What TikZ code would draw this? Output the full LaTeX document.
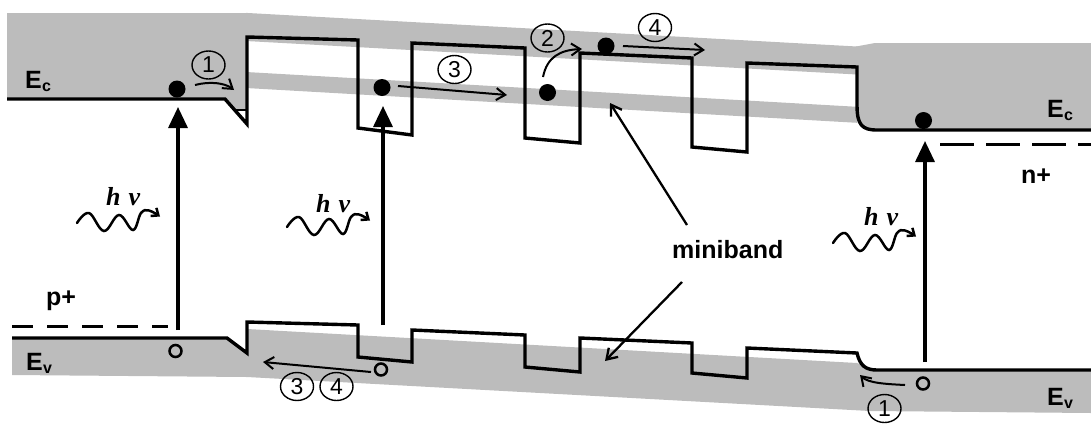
\documentclass[tikz,border=0pt]{standalone}
\usepackage{fontspec}
\setmainfont{Liberation Sans}
\newfontfamily\hnfont{Liberation Serif}
\usetikzlibrary{arrows.meta,shapes.geometric}
\definecolor{bandgray}{RGB}{188,188,188}
\newcommand\subl[1]{\kern0.3pt\raisebox{-3.5pt}{\fontsize{16}{16}\selectfont #1}}
\begin{document}
\begin{tikzpicture}[x=1pt,y=-1pt,
  band/.style={fill=bandgray,draw=none},
  edgeline/.style={line width=3.4pt,line join=miter},
  plevel/.style={line width=3pt,dash pattern=on 21pt off 14pt},
  nlevel/.style={line width=3pt,dash pattern=on 34pt off 12pt},
  photonarrow/.style={line width=3.3pt,-{Triangle[length=21pt,width=19pt]}},
  elec/.style={circle,fill=black,inner sep=0pt,minimum size=17pt},
  hole/.style={circle,draw=black,line width=2.5pt,inner sep=0pt,minimum size=12pt},
  num/.style={ellipse,draw=black,line width=1.4pt,inner sep=0pt,minimum width=33pt,minimum height=28pt,font=\fontsize{23}{23}\selectfont},
  move/.style={line width=2pt,-{Straight Barb[length=9pt,width=12pt,line width=2pt]}},
  pointer/.style={line width=2.3pt,-{Straight Barb[length=10pt,width=13pt]}},
  wave/.style={line width=2.5pt,line cap=round,-{Straight Barb[length=6pt,width=10pt]}},
  lbl/.style={font=\fontsize{25}{25}\selectfont\bfseries,inner sep=0pt},
  hnu/.style={font=\hnfont\fontsize{26}{26}\selectfont\bfseries\itshape,inner sep=0pt},
]
\useasboundingbox (0,0) rectangle (1091,424);
% ---- conduction band shading
\fill[bandgray] (7,13) -- (247,13) -- (247,110) -- (235,110) -- (225,99) -- (7,99) -- cycle;
\fill[bandgray] (246,12.9) -- (857,46.5) -- (857,74.5) -- (246,41) -- cycle;
\fill[bandgray] (246,72) -- (857,106.8) -- (857,122.8) -- (246,88) -- cycle;
\fill[bandgray] (856,46.5) -- (875,43) -- (1091,43) -- (1091,130) -- (877,130)
   .. controls (862,130) and (857,125) .. (857,105) -- cycle;
% ---- valence band shading
\fill[bandgray] (12,338) -- (227,338) -- (247,353) -- (247,329) -- (857,363) -- (877,370)
   -- (1091,370) -- (1091,413) -- (870,411) -- (247,377) -- (12,375) -- cycle;
% ---- band edges
\draw[edgeline] (7,99) -- (225,99) -- (247,124) -- (247,37) -- (358,40) -- (358,128)
   -- (412,135) -- (412,43) -- (525,48) -- (525,138) -- (580,143) -- (580,53)
   -- (692,58) -- (692,147) -- (747,152) -- (747,63) -- (857,67) -- (857,105)
   .. controls (857,125) and (862,130) .. (877,130) -- (1091,130);
\draw[line width=1.6pt] (235,110) -- (247,110);
\draw[edgeline] (12,338) -- (227,338) -- (247,353) -- (247,322) -- (358,325) -- (358,357)
   -- (412,362) -- (412,330) -- (525,335) -- (525,367) -- (580,372) -- (580,338)
   -- (692,343) -- (692,373) -- (747,378) -- (747,348) -- (857,353)
   .. controls (860,366) and (866,370) .. (877,370) -- (1091,370);
% ---- doping levels
\draw[plevel] (12,326) -- (168,326);
\draw[nlevel] (940,144) -- (1091,144);
% ---- carriers
\node[elec] (e1) at (177,89) {};
\node[elec] (e2) at (382,87.5) {};
\node[elec] (e3) at (547.5,92.5) {};
\node[elec] (e4) at (606,46) {};
\node[elec] (e5) at (923.5,120.5) {};
\node[hole] (h1) at (175.5,351) {};
\node[hole] (h2) at (381,369.5) {};
\node[hole] (h3) at (923,383.5) {};
% ---- absorption arrows
\coordinate (a1s) at (178,330); \coordinate (a1e) at (178,107);
\coordinate (a2s) at (383,325); \coordinate (a2e) at (383,106);
\coordinate (a3s) at (925,362); \coordinate (a3e) at (925,141);
\draw[photonarrow] (a1s) -- (a1e);
\draw[photonarrow] (a2s) -- (a2e);
\draw[photonarrow] (a3s) -- (a3e);
% ---- photons
\foreach \px/\py in {77/223, 287/227, 833/243}{
  \draw[wave,shift={(\px,\py)}] plot[smooth,tension=0.65] coordinates
    {(0,0) (12,-10) (27,8) (42,-8) (56,7) (64,-10) (72,-12.5) (83,-6.5)};
}
\node[hnu,anchor=base west] (hv1) at (106,205) {h\hspace{8pt}ν};
\node[hnu,anchor=base west] (hv2) at (316,212) {h\hspace{8pt}ν};
\node[hnu,anchor=base west] (hv3) at (864,225) {h\hspace{8pt}ν};
% ---- numbered steps
\node[num] (n1a) at (208.5,65) {1};
\node[num] (n3a) at (454.5,69.5) {3};
\node[num] (n2) at (547.5,38) {2};
\node[num] (n4a) at (655,27.5) {4};
\node[num] (n3b) at (297,386.5) {3};
\node[num] (n4b) at (336.5,386.5) {4};
\node[num] (n1b) at (884.5,408.5) {1};
% ---- transport arrows
\coordinate (t1s) at (195,85);  \coordinate (t1e) at (234,90);
\coordinate (t3s) at (398,86);  \coordinate (t3e) at (507,95);
\coordinate (t2s) at (543,77);  \coordinate (t2e) at (582,49);
\coordinate (t4s) at (623,46);  \coordinate (t4e) at (705,50);
\coordinate (v34s) at (371,372); \coordinate (v34e) at (263,362);
\coordinate (v1s) at (905,385); \coordinate (v1e) at (860,375);
\draw[move] (t1s) .. controls (210,81) and (225,83) .. (t1e);
\draw[move] (t3s) -- (t3e);
\draw[move] (t2s) .. controls (547,57) and (560,50) .. (t2e);
\draw[move] (t4s) -- (t4e);
\draw[move] (v34s) -- (v34e);
\draw[move] (v1s) .. controls (885,384) and (868,383) .. (v1e);
% ---- labels
\node[lbl,anchor=base west] (ecl) at (25,88) {E\subl{c}};
\node[lbl,anchor=base west] (ecr) at (1047,117) {E\subl{c}};
\node[lbl,anchor=base west] (evl) at (26,370) {E\subl{v}};
\node[lbl,anchor=base west] (evr) at (1047,405) {E\subl{v}};
\node[lbl,anchor=base west] (pp) at (46,305) {p+};
\node[lbl,anchor=base west] (np) at (1021,183) {n+};
\node[lbl,font=\fontsize{25}{25}\selectfont\bfseries,anchor=base west] (mb) at (672,258) {miniband};
\coordinate (mp1s) at (687,225); \coordinate (mp1e) at (610,103);
\coordinate (mp2s) at (682,282); \coordinate (mp2e) at (605,361);
\draw[pointer] (mp1s) -- (mp1e);
\draw[pointer] (mp2s) -- (mp2e);
\end{tikzpicture}
\end{document}
